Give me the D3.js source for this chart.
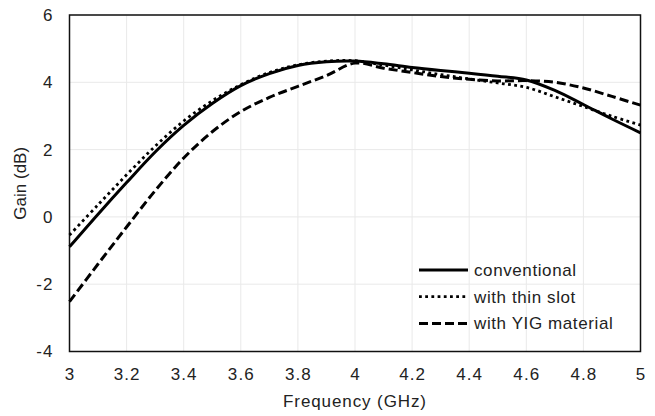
<!DOCTYPE html>
<html>
<head>
<meta charset="utf-8">
<script src="https://cdn.jsdelivr.net/npm/d3@7"></script>
<style>
    body { margin: 0; background: #fff; }
    text { font-family: "Liberation Sans", Arial, sans-serif; fill: #222; }
</style>
</head>
<body>
<div id="chart"></div>
<script>

// data (GHz / dB)
let freq = [3.0, 3.1, 3.2, 3.3, 3.4, 3.5, 3.6, 3.7, 3.8, 3.9, 4.0,
            4.1, 4.2, 4.3, 4.4, 4.5, 4.6, 4.7, 4.8, 4.9, 5.0];

let conventional = [-0.89, 0.08, 1.02, 1.93, 2.72, 3.37, 3.9, 4.26, 4.5, 4.61, 4.63,
                    4.55, 4.44, 4.35, 4.27, 4.18, 4.07, 3.76, 3.34, 2.91, 2.5];

let thinSlot = [-0.54, 0.36, 1.25, 2.1, 2.85, 3.45, 3.93, 4.29, 4.52, 4.63, 4.64,
                4.51, 4.37, 4.23, 4.1, 3.98, 3.85, 3.57, 3.28, 2.99, 2.73];

let yig = [-2.52, -1.4, -0.3, 0.78, 1.75, 2.53, 3.13, 3.55, 3.88, 4.2, 4.57,
           4.42, 4.29, 4.17, 4.09, 4.04, 4.05, 4.0, 3.83, 3.58, 3.32];

let xTicks = [3, 3.2, 3.4, 3.6, 3.8, 4, 4.2, 4.4, 4.6, 4.8, 5];
let yTicks = [-4, -2, 0, 2, 4, 6];

let seriesNames = ["conventional", "with thin slot", "with YIG material"];


let margin = { top: 15, right: 14.5, bottom: 64.5, left: 69.5 };
let width = 655 - margin.left - margin.right,
    height = 416 - margin.top - margin.bottom;

let svg = d3.select("#chart").append("svg")
    .attr("width", 655)
    .attr("height", 416)
    .append("g")
    .attr("transform", "translate(" + margin.left + "," + margin.top + ")");

let x = d3.scaleLinear().domain([3, 5]).range([0, width]);
let y = d3.scaleLinear().domain([-4, 6]).range([height, 0]);

// gridlines
svg.append("g")
    .attr("class", "grid")
    .selectAll("line.vx")
    .data(xTicks)
    .enter().append("line")
    .attr("x1", d => x(d)).attr("x2", d => x(d))
    .attr("y1", 0).attr("y2", height)
    .attr("stroke", "#e9e9e9")
    .attr("stroke-width", 1);

svg.append("g")
    .attr("class", "grid")
    .selectAll("line.hy")
    .data(yTicks)
    .enter().append("line")
    .attr("x1", 0).attr("x2", width)
    .attr("y1", d => y(d)).attr("y2", d => y(d))
    .attr("stroke", "#e9e9e9")
    .attr("stroke-width", 1);

// axes (labels only, the frame is drawn below)
let fmt = d => String(d);   // plain hyphen minus like the original
let xAxis = d3.axisBottom(x).tickValues(xTicks).tickSize(0).tickPadding(16).tickFormat(fmt);
let yAxis = d3.axisLeft(y).tickValues(yTicks).tickSize(0).tickPadding(16).tickFormat(fmt);

let gx = svg.append("g")
    .attr("class", "x-axis axis")
    .attr("transform", "translate(0," + height + ")")
    .call(xAxis);

let gy = svg.append("g")
    .attr("class", "y-axis axis")
    .call(yAxis);

[gx, gy].forEach(g => {
    g.select(".domain").remove();
    g.selectAll("text")
        .style("font-size", "17px")
        .style("font-family", "'Liberation Sans', Arial, sans-serif")
        .style("letter-spacing", "1.1px")
        .attr("fill", "#222");
});

// plot frame
svg.append("rect")
    .attr("width", width)
    .attr("height", height)
    .attr("fill", "none")
    .attr("stroke", "#111")
    .attr("stroke-width", 1.5);

// lines
let line = d3.line()
    .x(d => x(d[0]))
    .y(d => y(d[1]))
    .curve(d3.curveCatmullRom.alpha(0.5));

let styles = [
    { values: conventional, dash: null, w: 3 },
    { values: thinSlot, dash: "2.8,3.4", w: 2.8 },
    { values: yig, dash: "9,4", w: 3 }
];

styles.forEach(s => {
    svg.append("path")
        .datum(freq.map((f, i) => [f, s.values[i]]))
        .attr("fill", "none")
        .attr("stroke", "#000")
        .attr("stroke-width", s.w)
        .attr("stroke-dasharray", s.dash)
        .attr("d", line);
});

// legend
let legend = svg.append("g")
    .attr("transform", "translate(" + (419 - margin.left) + "," + (270 - margin.top) + ")");

seriesNames.forEach((name, i) => {
    let row = legend.append("g").attr("transform", "translate(0," + (i * 26.7) + ")");
    row.append("line")
        .attr("x1", 0).attr("x2", 49)
        .attr("y1", 0).attr("y2", 0)
        .attr("stroke", "#000")
        .attr("stroke-width", styles[i].w)
        .attr("stroke-dasharray", styles[i].dash);
    row.append("text")
        .attr("x", 55)
        .attr("y", 0)
        .attr("dy", "0.35em")
        .style("font-size", "17px")
        .style("letter-spacing", "0.6px")
        .text(name);
});

// axis titles
svg.append("text")
    .attr("x", width / 2)
    .attr("y", height + 55)
    .attr("text-anchor", "middle")
    .style("font-size", "17px")
    .style("letter-spacing", "0.9px")
    .text("Frequency (GHz)");

svg.append("text")
    .attr("transform", "rotate(-90)")
    .attr("x", -height / 2)
    .attr("y", -margin.left + 26)
    .attr("text-anchor", "middle")
    .style("font-size", "17px")
    .text("Gain (dB)");

</script>
</body>
</html>
